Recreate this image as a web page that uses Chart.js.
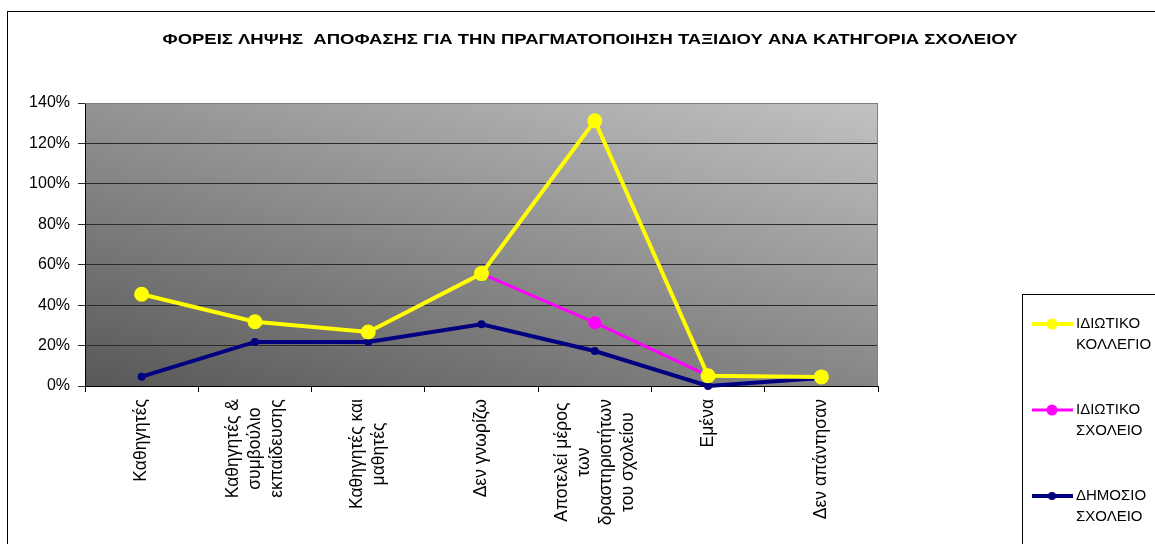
<!DOCTYPE html>
<html>
<head>
<meta charset="utf-8">
<script src="https://cdn.jsdelivr.net/npm/chart.js@4"></script>
<style>
  html, body { margin: 0; padding: 0; background: #fff; }
  canvas { display: block; }
</style>
</head>
<body>
<canvas id="c" width="1155" height="544"></canvas>
<script>
const chartTitle = "ΦΟΡΕΙΣ ΛΗΨΗΣ  ΑΠΟΦΑΣΗΣ ΓΙΑ ΤΗΝ ΠΡΑΓΜΑΤΟΠΟΙΗΣΗ ΤΑΞΙΔΙΟΥ ΑΝΑ ΚΑΤΗΓΟΡΙΑ ΣΧΟΛΕΙΟΥ";

// κατηγορίες (πολλές γραμμές ανά ετικέτα)
const categories = [
  ["Καθηγητές"],
  ["Καθηγητές &", "συμβούλιο", "εκπαίδευσης"],
  ["Καθηγητές και", "μαθητές"],
  ["Δεν γνωρίζω"],
  ["Αποτελεί μέρος", "των", "δραστηριοτήτων", "του σχολείου"],
  ["Εμένα"],
  ["Δεν απάντησαν"]
];

const seriesNames = [
  ["ΙΔΙΩΤΙΚΟ", "ΚΟΛΛΕΓΙΟ"],
  ["ΙΔΙΩΤΙΚΟ", "ΣΧΟΛΕΙΟ"],
  ["ΔΗΜΟΣΙΟ", "ΣΧΟΛΕΙΟ"]
];

// τιμές σε %
const privateCollege = [45.4, 31.8, 26.7, 55.6, 131.2, 5.1, 4.5];
const privateSchool  = [45.4, 31.8, 26.7, 55.6, 31.3, 5.1, 4.5];
const publicSchool   = [4.6, 21.8, 21.8, 30.5, 17.3, 0, 4.0];

const yTicks = [0, 20, 40, 60, 80, 100, 120, 140];

const FONT = "'Liberation Sans', Arial, sans-serif";

const ds = (label, data, color, width, radius) => ({
  label: label.join(" "),
  data: data,
  borderColor: color,
  backgroundColor: color,
  borderWidth: width,
  pointRadius: radius,
  pointHoverRadius: radius,
  pointBorderWidth: 0,
  tension: 0,
  clip: false
});

// πλαίσιο, φόντο περιοχής σχεδίασης
const framePlugin = {
  id: "frame",
  beforeDraw(chart) {
    const ctx = chart.ctx;
    const a = chart.chartArea;
    ctx.save();
    ctx.fillStyle = "#fff";
    ctx.fillRect(0, 0, chart.width, chart.height);
    ctx.strokeStyle = "#000";
    ctx.lineWidth = 1;
    ctx.strokeRect(7.5, 11.5, 1300, 700);

    const w = a.right - a.left, h = a.bottom - a.top;
    ctx.translate(a.left, a.top);
    ctx.scale(w, h);
    const g = ctx.createLinearGradient(0, 1, 0.857, -0.111);
    g.addColorStop(0, "#585858");
    g.addColorStop(1, "#c2c2c2");
    ctx.fillStyle = g;
    ctx.fillRect(0, 0, 1, 1);
    ctx.restore();
  },
  afterDraw(chart) {
    const ctx = chart.ctx;
    const a = chart.chartArea;
    ctx.save();
    // πάνω / δεξί περίγραμμα
    ctx.strokeStyle = "#808080";
    ctx.lineWidth = 1;
    ctx.beginPath();
    ctx.moveTo(a.left, a.top + 0.5);
    ctx.lineTo(a.right - 0.5, a.top + 0.5);
    ctx.lineTo(a.right - 0.5, a.bottom);
    ctx.stroke();

    // τίτλος
    ctx.fillStyle = "#000";
    ctx.font = "bold 15px " + FONT;
    ctx.textAlign = "center";
    ctx.textBaseline = "middle";
    const tw = ctx.measureText(chartTitle).width;
    ctx.save();
    ctx.translate(590, 40);
    ctx.scale(855 / tw, 1);
    ctx.fillText(chartTitle, 0, 0);
    ctx.restore();

    // ετικέτες άξονα x
    const xs = chart.scales.x;
    ctx.font = "17.5px " + FONT;
    const lh = 22;
    categories.forEach((lines, i) => {
      const px = xs.getPixelForValue(i);
      const maxW = Math.max(...lines.map(t => ctx.measureText(t).width));
      const cy = 399 + maxW / 2;
      ctx.save();
      ctx.translate(px, cy);
      ctx.rotate(-Math.PI / 2);
      lines.forEach((t, j) => {
        ctx.fillText(t, 0, (j - (lines.length - 1) / 2) * lh);
      });
      ctx.restore();
    });

    // υπόμνημα
    ctx.strokeStyle = "#000";
    ctx.strokeRect(1022.5, 294.5, 300, 300);
    ctx.textAlign = "left";
    ctx.font = "15px " + FONT;
    const itemY = [324, 410, 496];
    chart.data.datasets.forEach((d, i) => {
      const y = itemY[i];
      ctx.strokeStyle = d.borderColor;
      ctx.lineWidth = d.borderWidth;
      ctx.beginPath();
      ctx.moveTo(1032, y);
      ctx.lineTo(1073, y);
      ctx.stroke();
      ctx.fillStyle = d.backgroundColor;
      ctx.beginPath();
      ctx.arc(1052, y, Math.min(d.pointRadius, 5.5), 0, Math.PI * 2);
      ctx.fill();
      ctx.fillStyle = "#000";
      seriesNames[i].forEach((t, j) => ctx.fillText(t, 1076, y + j * 21));
    });
    ctx.restore();
  }
};

new Chart(document.getElementById("c"), {
  type: "line",
  data: {
    labels: categories,
    datasets: [
      ds(seriesNames[0], privateCollege, "#ffff00", 4, 7.5),
      ds(seriesNames[1], privateSchool, "#ff00ff", 3, 6.5),
      ds(seriesNames[2], publicSchool, "#000080", 4, 4)
    ]
  },
  options: {
    responsive: false,
    animation: false,
    layout: { padding: { top: 103, left: 0, right: 277, bottom: 0 } },
    plugins: {
      legend: { display: false },
      title: { display: false },
      tooltip: { enabled: false }
    },
    scales: {
      x: {
        type: "category",
        offset: true,
        grid: { offset: true, drawOnChartArea: false, tickLength: 6, color: "#000" },
        border: { color: "#000", width: 1 },
        ticks: { display: false },
        afterFit(s) { s.height = 158; }
      },
      y: {
        min: 0,
        max: 140,
        afterBuildTicks(s) { s.ticks = yTicks.map(v => ({ value: v })); },
        grid: { color: "#2a2a2a", tickLength: 7 },
        border: { color: "#000", width: 1 },
        ticks: {
          padding: 8,
          color: "#000",
          font: { family: FONT, size: 16 },
          callback: v => v + "%"
        },
        afterFit(s) { s.width = 85; }
      }
    }
  },
  plugins: [framePlugin]
});
</script>
</body>
</html>
